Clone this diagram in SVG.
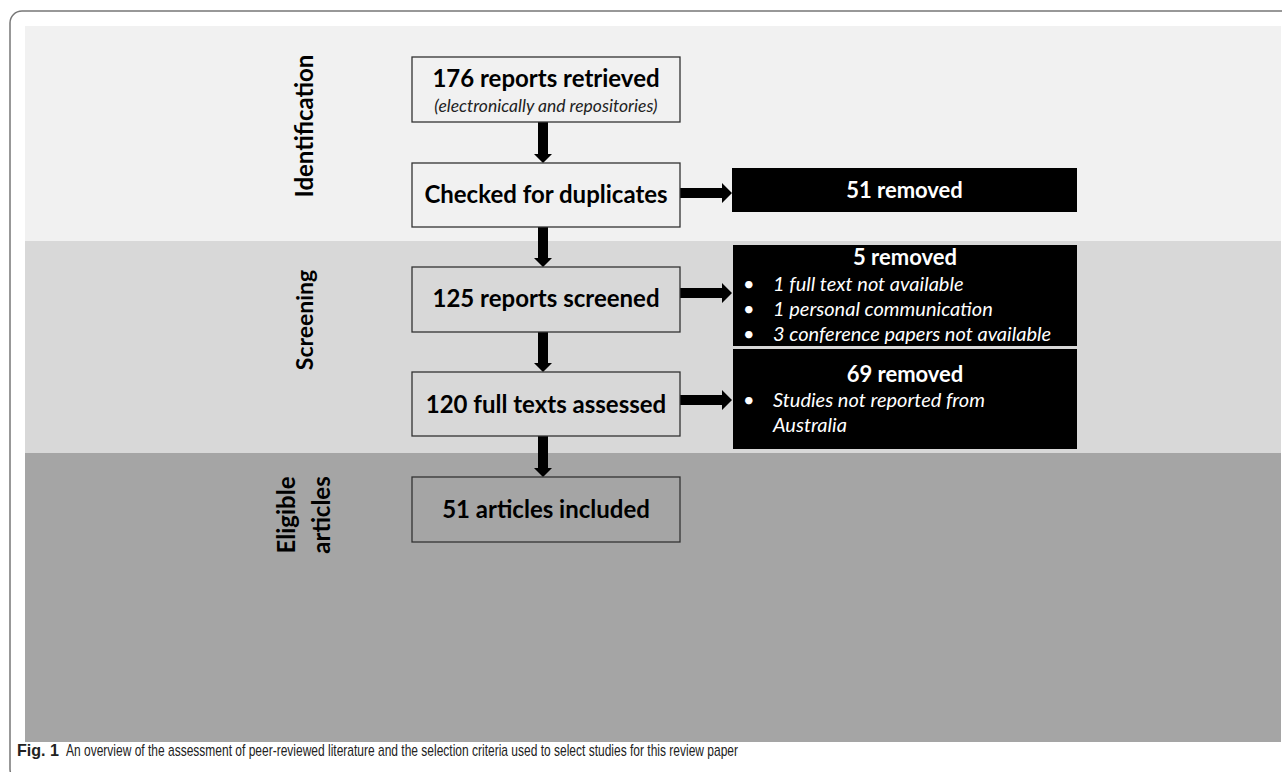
<svg xmlns="http://www.w3.org/2000/svg" width="1282" height="772" viewBox="0 0 1282 772">
<style>
.box{stroke:#333;stroke-width:1.3}
.bt{font-family:Lato,"Open Sans",sans-serif;font-weight:bold;font-size:24px;fill:#000;text-anchor:middle}
.it{font-family:Lato,"Open Sans",sans-serif;font-style:italic;font-size:17.5px;fill:#222;text-anchor:middle}
.wb{font-family:Lato,"Open Sans",sans-serif;font-weight:bold;font-size:22px;fill:#fff;text-anchor:middle}
.wi{font-family:Lato,"Open Sans",sans-serif;font-style:italic;font-size:20px;fill:#fff}
.lab{font-family:Lato,"Open Sans",sans-serif;font-weight:bold;font-size:24px;fill:#000;text-anchor:middle}
.cap{font-family:"Liberation Sans",Arial,sans-serif;font-size:17px;fill:#222}
.arr{fill:#000}
</style>
<rect x="0" y="0" width="1282" height="772" fill="#fff"/>
<rect x="10" y="11" width="1300" height="770" rx="12" ry="12" fill="none" stroke="#777" stroke-width="1.5"/>
<g id="bands">
<rect x="25" y="26" width="1256" height="215" fill="#f1f1f1"/>
<rect x="25" y="241" width="1256" height="212" fill="#d8d8d8"/>
<rect x="25" y="453" width="1256" height="289" fill="#a5a5a5"/>
</g>
<g id="labels">
<text class="lab" transform="translate(313,126) rotate(-90)">Identification</text>
<text class="lab" transform="translate(313,320) rotate(-90)" style="font-size:23px">Screening</text>
<text class="lab" transform="translate(295,515) rotate(-90)">Eligible</text>
<text class="lab" transform="translate(330,515) rotate(-90)">articles</text>
</g>
<g id="connectors">
<polygon class="arr" points="538,122 548,122 548,154 552,154 543,163 534,154 538,154"/>
<polygon class="arr" points="538,227 548,227 548,258 552,258 543,267 534,258 538,258"/>
<polygon class="arr" points="538,332 548,332 548,363 552,363 543,372 534,363 538,363"/>
<polygon class="arr" points="538,436 548,436 548,468 552,468 543,477 534,468 538,468"/>
<polygon class="arr" points="680,188 722,188 722,183 732,193 722,203 722,198 680,198"/>
<polygon class="arr" points="680,288 722,288 722,283 732,293 722,303 722,298 680,298"/>
<polygon class="arr" points="680,395 722,395 722,390 732,400 722,410 722,405 680,405"/>
</g>
<g id="n1">
<rect class="box" x="412" y="57" width="268" height="65" fill="#f1f1f1"/>
<text class="bt" x="546" y="87">176 reports retrieved</text>
<text class="it" x="546" y="112">(electronically and repositories)</text>
</g>
<g id="n2">
<rect class="box" x="412" y="163" width="268" height="64" fill="#f1f1f1"/>
<text class="bt" x="546" y="203">Checked for duplicates</text>
</g>
<g id="n3">
<rect class="box" x="412" y="267" width="268" height="65" fill="#d8d8d8"/>
<text class="bt" x="546" y="307">125 reports screened</text>
</g>
<g id="n4">
<rect class="box" x="412" y="372" width="268" height="64" fill="#d8d8d8"/>
<text class="bt" x="546" y="413">120 full texts assessed</text>
</g>
<g id="n5">
<rect class="box" x="412" y="477" width="268" height="65" fill="#a5a5a5"/>
<text class="bt" x="546" y="518">51 articles included</text>
</g>
<g id="r1">
<rect x="732" y="168" width="345" height="44" fill="#000"/>
<text class="wb" x="904.5" y="198">51 removed</text>
</g>
<g id="r2">
<rect x="733" y="245" width="344" height="101" fill="#000"/>
<text class="wb" x="905" y="265">5 removed</text>
<text class="wi" x="743" y="291">•</text><text class="wi" x="773" y="291">1 full text not available</text>
<text class="wi" x="743" y="316">•</text><text class="wi" x="773" y="316">1 personal communication</text>
<text class="wi" x="743" y="341">•</text><text class="wi" x="773" y="341">3 conference papers not available</text>
</g>
<g id="r3">
<rect x="733" y="349" width="344" height="100" fill="#000"/>
<text class="wb" x="905" y="382">69 removed</text>
<text class="wi" x="743" y="407">•</text><text class="wi" x="773" y="407">Studies not reported from</text>
<text class="wi" x="773" y="432">Australia</text>
</g>
<g id="caption">
<text class="cap" x="17" y="756" font-weight="bold" textLength="42" lengthAdjust="spacingAndGlyphs">Fig. 1</text>
<text class="cap" x="66" y="756" textLength="672" lengthAdjust="spacingAndGlyphs">An overview of the assessment of peer-reviewed literature and the selection criteria used to select studies for this review paper</text>
</g>
</svg>
